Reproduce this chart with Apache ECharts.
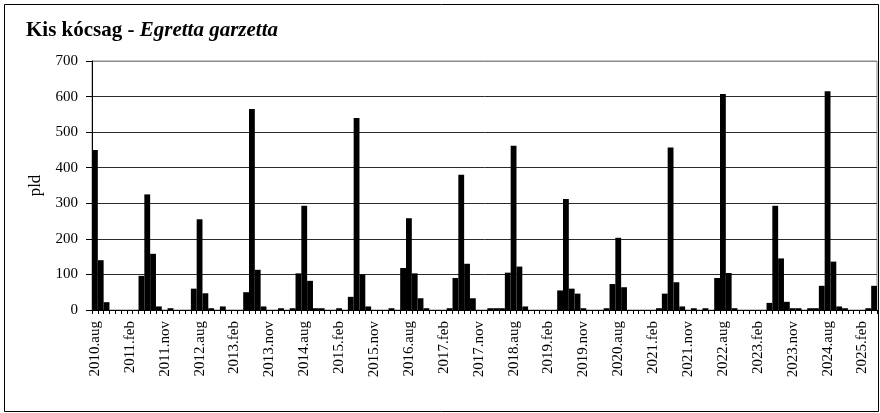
<!DOCTYPE html>
<html>
<head>
<meta charset="utf-8">
<script src="https://cdn.jsdelivr.net/npm/echarts@6/dist/echarts.min.js"></script>
<style>
html,body{margin:0;padding:0;background:#fff;}
#c{width:880px;height:413px;}
</style>
</head>
<body>
<div id="c"></div>
<script>
// Survey months (jul..mar), first season starts in aug 2010, last bar 2025.jul
const monthsFirstHalf = ['jul','aug','sep','oct','nov','dec'];
const monthsSecondHalf = ['jan','feb','mar'];
const firstSeason = 2010;
const lastSeason = 2024;
const yTicks = [0, 100, 200, 300, 400, 500, 600, 700];

// counts (pld), in category order
const counts = [
  450,140,22,0,0,0,0,0,            // 2010.aug - 2011.mar
  96,325,158,10,0,5,0,0,0,         // 2011.jul - 2012.mar
  60,255,47,5,0,10,0,0,0,          // 2012.jul - 2013.mar
  50,565,113,10,0,0,5,0,5,         // 2013.jul - 2014.mar
  103,293,82,5,5,0,0,5,0,          // 2014.jul - 2015.mar
  37,540,100,10,0,0,0,5,0,         // 2015.jul - 2016.mar
  118,258,103,33,5,0,0,0,5,        // 2016.jul - 2017.mar
  90,380,130,33,0,0,5,5,5,         // 2017.jul - 2018.mar
  105,462,122,10,0,0,0,0,0,        // 2018.jul - 2019.mar
  55,312,60,46,5,0,0,0,5,          // 2019.jul - 2020.mar
  73,203,64,0,0,0,0,0,5,           // 2020.jul - 2021.mar
  46,457,78,10,0,5,0,5,0,          // 2021.jul - 2022.mar
  90,607,104,5,0,0,0,0,0,          // 2022.jul - 2023.mar
  20,293,145,23,5,5,0,5,5,         // 2023.jul - 2024.mar
  68,615,136,10,5,0,0,0,5,         // 2024.jul - 2025.mar
  68                               // 2025.jul
];

const categories = [];
for (let y = firstSeason; y <= lastSeason; y++) {
  monthsFirstHalf.forEach(m => { if (!(y === firstSeason && m === 'jul')) categories.push(y + '.' + m); });
  monthsSecondHalf.forEach(m => categories.push((y + 1) + '.' + m));
}
categories.push((lastSeason + 1) + '.jul');

const serif = 'Liberation Serif';
const gridColors = yTicks.map((t, i) => i === yTicks.length - 1 ? '#8a8a8a' : '#2a2a2a');
const chart = echarts.init(document.getElementById('c'), null, {renderer: 'canvas'});
chart.setOption({
  animation: false,
  backgroundColor: '#fff',
  title: {
    text: '{b|Kis kócsag - }{bi|Egretta garzetta}',
    left: 21,
    top: 15,
    textStyle: {
      rich: {
        b: {fontFamily: serif, fontWeight: 'bold', fontSize: 21, color: '#000'},
        bi: {fontFamily: serif, fontWeight: 'bold', fontStyle: 'italic', fontSize: 21, color: '#000'}
      }
    }
  },
  graphic: [{
    type: 'rect',
    shape: {x: 4.5, y: 4.5, width: 874, height: 407},
    style: {fill: 'none', stroke: '#000', lineWidth: 1},
    silent: true,
    z: -1
  }],
  grid: {
    left: 92, right: 3, top: 61, bottom: 103,
    show: true, borderColor: '#8a8a8a', borderWidth: 1
  },
  xAxis: {
    type: 'category',
    data: categories,
    boundaryGap: true,
    axisLine: {lineStyle: {color: '#000', width: 1}},
    axisTick: {show: true, interval: 0, length: 4, lineStyle: {color: '#000'}},
    axisLabel: {
      interval: 5, rotate: 90, margin: 11,
      fontFamily: serif, fontSize: 15, color: '#000'
    },
    splitLine: {show: false}
  },
  yAxis: {
    type: 'value',
    min: yTicks[0], max: yTicks[yTicks.length - 1], interval: 100,
    name: 'pld',
    nameLocation: 'middle',
    nameRotate: 90,
    nameGap: 48,
    nameTextStyle: {fontFamily: serif, fontSize: 17, color: '#000'},
    axisLine: {show: true, lineStyle: {color: '#000', width: 1}},
    axisTick: {show: true, length: 6, inside: false, lineStyle: {color: '#000'}},
    axisLabel: {fontFamily: serif, fontSize: 15, color: '#000', margin: 14},
    splitLine: {show: true, lineStyle: {color: gridColors, width: 1}}
  },
  series: [{
    type: 'bar',
    data: counts,
    barCategoryGap: '0%',
    itemStyle: {color: '#000'}
  }]
});
</script>
</body>
</html>
